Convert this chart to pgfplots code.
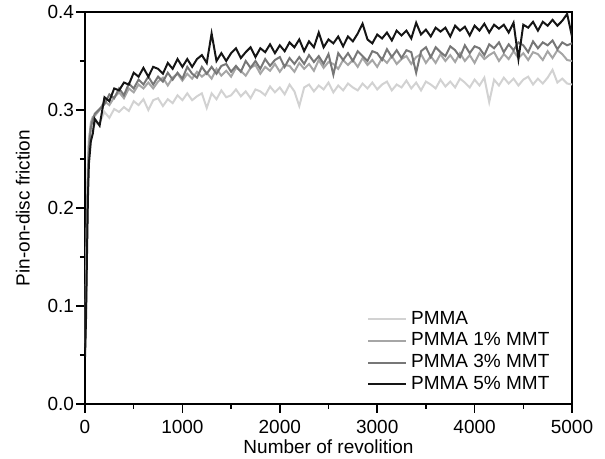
\documentclass[border=0pt]{standalone}
\usepackage{fontspec}
\setmainfont{Liberation Sans}
\usepackage{pgfplots}
\usepackage{pgfplotstable}
\pgfplotsset{compat=1.18}

\definecolor{cpmma}{HTML}{D2D2D2}
\definecolor{cone}{HTML}{A6A6A6}
\definecolor{cthree}{HTML}{777777}
\definecolor{cfive}{HTML}{151515}

% friction vs revolutions
\pgfplotstableread{
x a b c d
0 .062 .058 .055 .048
10 .120 .105 .095 .085
20 .195 .180 .165 .150
30 .250 .240 .225 .210
40 .272 .268 .258 .245
60 .282 .287 .282 .268
80 .280 .293 .290 .276
100 .286 .294 .296 .291
150 .287 .300 .301 .284
200 .298 .309 .306 .313
250 .292 .305 .316 .309
300 .301 .313 .312 .322
350 .298 .318 .322 .320
400 .303 .312 .315 .328
450 .299 .322 .327 .326
500 .309 .318 .322 .338
550 .305 .326 .331 .334
600 .311 .322 .326 .343
650 .300 .328 .334 .334
700 .310 .322 .326 .344
750 .312 .329 .334 .342
800 .304 .333 .329 .337
850 .311 .325 .338 .348
900 .307 .333 .331 .342
950 .315 .337 .338 .352
1000 .310 .330 .332 .344
1050 .317 .337 .344 .352
1100 .310 .332 .337 .344
1150 .314 .339 .333 .352
1200 .317 .334 .344 .356
1250 .302 .338 .337 .348
1300 .317 .332 .344 .378
1350 .311 .342 .337 .350
1400 .320 .335 .345 .358
1450 .313 .340 .347 .350
1500 .315 .334 .339 .358
1550 .321 .343 .345 .363
1600 .314 .340 .339 .353
1650 .319 .335 .350 .359
1700 .312 .343 .343 .364
1750 .321 .346 .350 .354
1800 .319 .337 .342 .363
1850 .315 .344 .352 .359
1900 .324 .340 .345 .367
1950 .318 .347 .351 .358
2000 .323 .339 .354 .366
2050 .316 .346 .344 .360
2100 .326 .345 .353 .369
2150 .319 .339 .347 .364
2200 .304 .348 .354 .372
2250 .323 .342 .347 .360
2300 .326 .347 .356 .370
2350 .319 .340 .349 .364
2400 .325 .351 .355 .379
2450 .321 .343 .347 .364
2500 .328 .349 .357 .372
2550 .318 .347 .336 .368
2600 .325 .342 .358 .375
2650 .320 .351 .351 .365
2700 .327 .346 .358 .375
2750 .323 .351 .350 .370
2800 .320 .344 .360 .378
2850 .327 .353 .355 .388
2900 .322 .346 .350 .372
2950 .328 .351 .360 .368
3000 .321 .344 .358 .377
3050 .326 .353 .351 .373
3100 .329 .348 .362 .379
3150 .320 .355 .354 .371
3200 .326 .347 .361 .381
3250 .323 .352 .353 .376
3300 .330 .355 .361 .381
3350 .322 .347 .359 .373
3400 .328 .354 .338 .389
3450 .320 .357 .360 .377
3500 .329 .348 .364 .382
3550 .326 .355 .354 .375
3600 .322 .348 .364 .384
3650 .331 .357 .359 .380
3700 .324 .350 .355 .384
3750 .329 .356 .365 .375
3800 .323 .349 .361 .386
3850 .332 .358 .354 .381
3900 .328 .350 .366 .385
3950 .323 .356 .358 .376
4000 .331 .348 .365 .386
4050 .325 .358 .363 .381
4100 .333 .352 .356 .388
4150 .308 .356 .367 .379
4200 .331 .359 .363 .387
4250 .325 .350 .369 .383
4300 .333 .357 .359 .387
4350 .327 .352 .367 .379
4400 .332 .360 .361 .389
4450 .325 .353 .369 .352
4500 .331 .358 .366 .387
4550 .334 .351 .359 .384
4600 .326 .359 .370 .390
4650 .332 .357 .363 .381
4700 .327 .351 .369 .390
4750 .333 .360 .366 .386
4800 .341 .353 .371 .392
4850 .328 .361 .362 .386
4900 .332 .357 .369 .391
4950 .327 .351 .366 .398
5000 .326 .350 .368 .375
}\friction

\begin{document}
\begin{tikzpicture}[font=\fontsize{9.5}{11.4}\selectfont]
\begin{axis}[name=ax, scale only axis, width=243.5pt, height=196pt,
  xmin=0, xmax=5000, ymin=0, ymax=0.4,
  xtick distance=1000, ytick distance=0.1, minor tick num=1,
  tick pos=left, tick align=outside,
  major tick length=4.5pt, minor tick length=2.5pt,
  axis line style={line width=0.9pt}, tick style={line width=0.8pt, black},
  every axis plot/.append style={line width=1pt},
  xticklabel style={/pgf/number format/1000 sep={}, /pgf/number format/assume math mode=true},
  yticklabel style={xshift=2.5pt, /pgf/number format/fixed, /pgf/number format/fixed zerofill, /pgf/number format/precision=1, /pgf/number format/assume math mode=true},
  xlabel={Number of revolition}, ylabel={Pin-on-disc friction},
  xlabel style={yshift=4pt}, ylabel style={yshift=2pt},
  legend style={at={(rel axis cs:0.975,0.008)}, anchor=south east, draw=none, fill=none, row sep=-1.2pt, font=\fontsize{9.5}{11.4}\selectfont},
  legend cell align=left,
  legend image code/.code={\draw[#1] (0pt,0pt) -- (19pt,0pt);},
]
\addplot[cpmma] table[x=x, y=a] {\friction};
\addplot[cone] table[x=x, y=b] {\friction};
\addplot[cthree] table[x=x, y=c] {\friction};
\addplot[cfive] table[x=x, y=d] {\friction};
\legend{PMMA, PMMA 1\% MMT, PMMA 3\% MMT, PMMA 5\% MMT}
\end{axis}
\pgfresetboundingbox
\path ([shift={(-42.5pt,-27.5pt)}]ax.south west) rectangle ([shift={(16.5pt,6pt)}]ax.north east);
\end{tikzpicture}
\end{document}
